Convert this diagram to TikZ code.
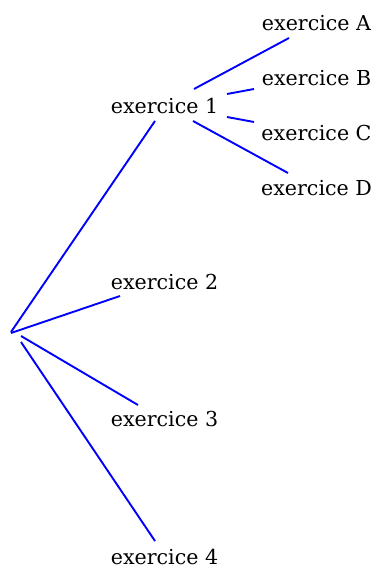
\documentclass[tikz,border=0pt]{standalone}
\usepackage{fontspec}
\setmainfont{DejaVu Serif}
\begin{document}
\begin{tikzpicture}[x=1pt,y=-1pt,
  lbl/.style={anchor=base,inner sep=0pt,font=\fontsize{20.6}{25}\selectfont},
  branch/.style={blue,line width=1.9pt}]
\useasboundingbox (0,0) rectangle (379,569);
\node[lbl] (e1) at (164.5,114) {exercice 1};
\node[lbl] (eA) at (316.5,31) {exercice A};
\node[lbl] (eB) at (316.5,86) {exercice B};
\node[lbl] (eC) at (316.5,141) {exercice C};
\node[lbl] (eD) at (316.5,196) {exercice D};
\node[lbl] (e2) at (164.5,289) {exercice 2};
\node[lbl] (e3) at (164.5,426) {exercice 3};
\node[lbl] (e4) at (164.5,564) {exercice 4};
% root ends
\coordinate (r1) at (11,332);
\coordinate (r2) at (11,333);
\coordinate (r3) at (21,336);
\coordinate (r4) at (21,342);
% branch ends
\coordinate (t1) at (155,121);
\coordinate (t2) at (120,296);
\coordinate (t3) at (138,405);
\coordinate (t4) at (155,541);
\coordinate (sA) at (194,89);
\coordinate (tA) at (289,38);
\coordinate (sB) at (227,94);
\coordinate (tB) at (254,89);
\coordinate (sC) at (227,117);
\coordinate (tC) at (254,122);
\coordinate (sD) at (193,121);
\coordinate (tD) at (288,173);
\draw[branch] (r1) -- (t1);
\draw[branch] (r2) -- (t2);
\draw[branch] (r3) -- (t3);
\draw[branch] (r4) -- (t4);
\draw[branch] (sA) -- (tA);
\draw[branch] (sB) -- (tB);
\draw[branch] (sC) -- (tC);
\draw[branch] (sD) -- (tD);
\end{tikzpicture}
\end{document}
